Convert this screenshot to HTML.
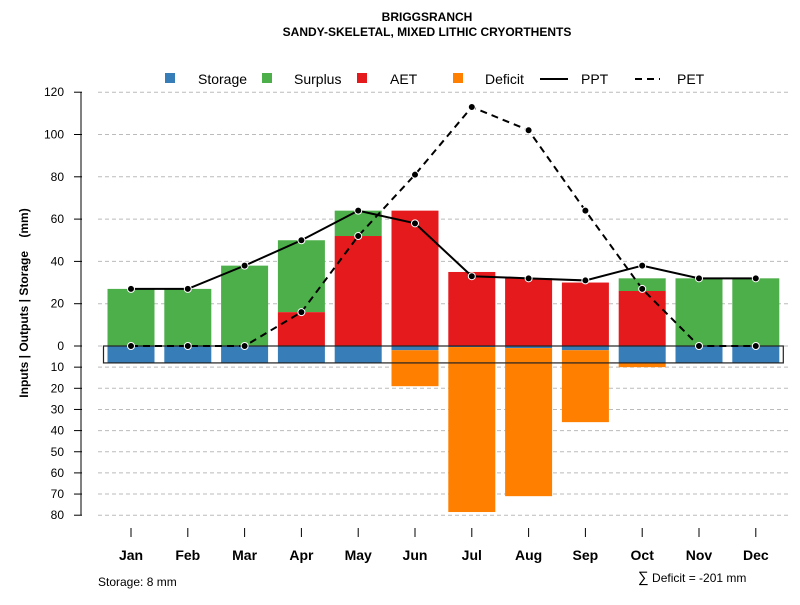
<!DOCTYPE html>
<html><head><meta charset="utf-8"><style>
body{margin:0;background:#fff;font-family:"Liberation Sans",sans-serif}
svg text{font-family:"Liberation Sans",sans-serif}
</style></head><body>
<svg id="c" width="800" height="600" xmlns="http://www.w3.org/2000/svg">
<text x="427" y="21" text-anchor="middle" font-size="12" font-weight="bold">BRIGGSRANCH</text>
<text x="427" y="36" text-anchor="middle" font-size="12" font-weight="bold">SANDY-SKELETAL, MIXED LITHIC CRYORTHENTS</text>
<g>
<rect x="165" y="73" width="10" height="10" fill="#377eb8"/>
<text x="198" y="84" font-size="14">Storage</text>
<rect x="262" y="73" width="10" height="10" fill="#4daf4a"/>
<text x="294" y="84" font-size="14">Surplus</text>
<rect x="357" y="73" width="10" height="10" fill="#e41a1c"/>
<text x="390" y="84" font-size="14">AET</text>
<rect x="453" y="73" width="10" height="10" fill="#ff7f00"/>
<text x="485" y="84" font-size="14">Deficit</text>
<line x1="540" y1="79" x2="568" y2="79" stroke="#000" stroke-width="2"/>
<text x="581" y="84" font-size="14">PPT</text>
<line x1="635" y1="79" x2="660" y2="79" stroke="#000" stroke-width="2" stroke-dasharray="7,5"/>
<text x="677" y="84" font-size="14">PET</text>
</g>
<text transform="translate(28,303) rotate(-90)" text-anchor="middle" font-size="12" font-weight="bold" xml:space="preserve" style="white-space:pre">Inputs | Outputs | Storage    (mm)</text>
<text x="98" y="586" font-size="12">Storage: 8 mm</text>
<text x="638" y="582" font-size="12"><tspan font-size="15">∑</tspan> Deficit = -201 mm</text>
<g id="plot"></g>
</svg>
<script>
const months=["Jan","Feb","Mar","Apr","May","Jun","Jul","Aug","Sep","Oct","Nov","Dec"];
const storage=[8,8,8,8,8,2,0.5,1,2,8,8,8];
const surplus=[27,27,38,34,12,0,0,0,0,6,32,32];
const aet=[0,0,0,16,52,64,35,32,30,26,0,0];
const deficit=[0,0,0,0,0,17,78,70,34,2,0,0];
const ppt=[27,27,38,50,64,58,33,32,31,38,32,32];
const pet=[0,0,0,16,52,81,113,102,64,27,0,0];
const posTicks=[0,20,40,60,80,100,120];
const negTicks=[10,20,30,40,50,60,70,80];
const maxStorage=8;
const NS="http://www.w3.org/2000/svg";
const g=document.getElementById('plot');
const y0=346,k=2.115;
const Y=v=>y0-v*k;
const X=i=>131+i*56.8;
const bw=47;
function mk(t,a){const e=document.createElementNS(NS,t);for(const p in a)e.setAttribute(p,a[p]);g.appendChild(e);return e;}
posTicks.forEach(v=>{
 let l=mk('line',{x1:98,x2:790,y1:Y(v),y2:Y(v),stroke:'#bbb','stroke-dasharray':'4,3'});
 
 
 let t=mk('line',{x1:74,x2:82,y1:Y(v),y2:Y(v),stroke:'#000'});
 
 
 let tx=mk('text',{x:64,y:Y(v)+4,'text-anchor':'end','font-size':12});tx.textContent=v;
 
 
});
negTicks.forEach(v=>{
 let l=mk('line',{x1:98,x2:790,y1:Y(-v),y2:Y(-v),stroke:'#bbb','stroke-dasharray':'4,3'});
 
 
 let t=mk('line',{x1:74,x2:82,y1:Y(-v),y2:Y(-v),stroke:'#000'});
 
 
 let tx=mk('text',{x:64,y:Y(-v)+4,'text-anchor':'end','font-size':12});tx.textContent=v;
 
 
});
let ax=mk('line',{x1:81,x2:81,y1:Y(120),y2:Y(-80),stroke:'#000'});


months.forEach((m,i)=>{
 const x=X(i)-bw/2;
 let r;
 r=mk('rect',{x:x,y:Y(surplus[i]+aet[i]),width:bw,height:surplus[i]*k,fill:'#4daf4a'});
 
 
 r=mk('rect',{x:x,y:Y(aet[i]),width:bw,height:aet[i]*k,fill:'#e41a1c'});
 
 
 r=mk('rect',{x:x,y:y0,width:bw,height:storage[i]*k,fill:'#377eb8'});
 
 
 r=mk('rect',{x:x,y:Y(-storage[i]),width:bw,height:deficit[i]*k,fill:'#ff7f00'});
 
 
 let t=mk('line',{x1:X(i),x2:X(i),y1:528,y2:537,stroke:'#000'});
 
 
 let tx=mk('text',{x:X(i),y:560,'text-anchor':'middle','font-size':14,'font-weight':'bold'});tx.textContent=m;
 
 
});
let sb=mk('rect',{x:X(0)-bw/2-4,y:y0,width:X(11)-X(0)+bw+8,height:maxStorage*k,fill:'none',stroke:'#222','stroke-width':1.2});


function series(arr,name,dash){
 let p=mk('polyline',{points:arr.map((v,i)=>X(i)+','+Y(v)).join(' '),fill:'none',stroke:'#000','stroke-width':2,'stroke-dasharray':dash});
 
 
 arr.forEach((v,i)=>{let c=mk('circle',{cx:X(i),cy:Y(v),r:3.5,fill:'#000',stroke:'#fff','stroke-width':1});
 
 });
}
series(pet,'pet','7,5');
series(ppt,'ppt','none');
</script>
</body></html>
